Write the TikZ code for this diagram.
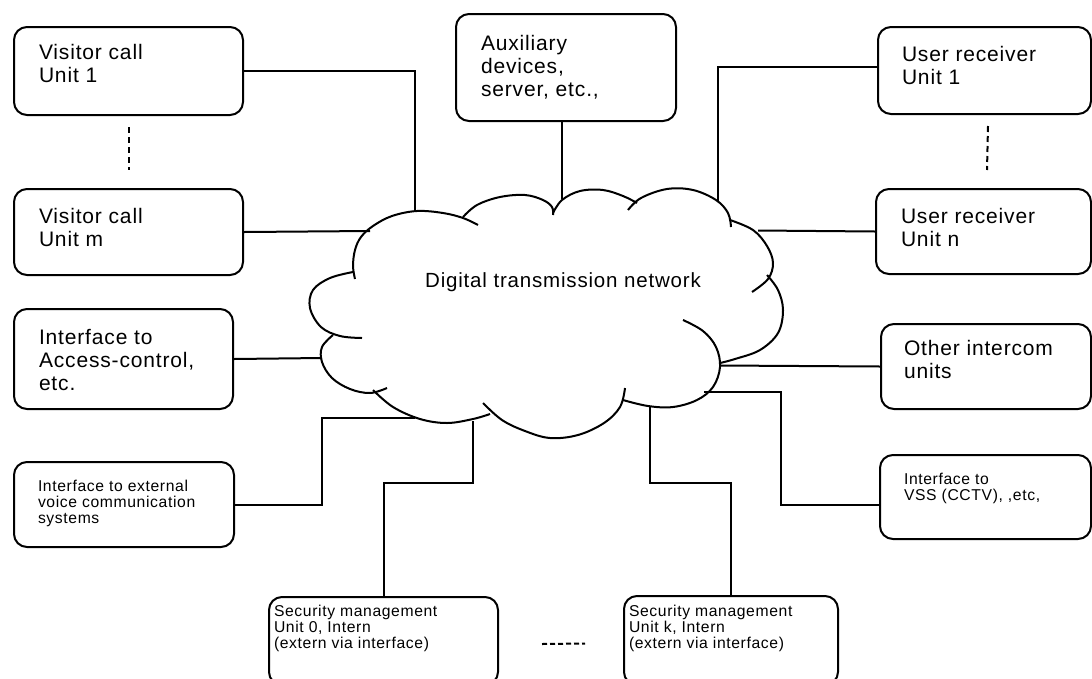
\documentclass[tikz,border=0pt]{standalone}
\usepackage{fontspec}
\setmainfont{Liberation Sans}[LetterSpace=4]
\newcommand\bigtxt{\fontsize{21}{23}\selectfont}
\newcommand\smalltxt{\fontsize{15.7}{16}\selectfont}
\newcommand\cloudtxt{\fontsize{20.5}{22}\selectfont}
\begin{document}
\begin{tikzpicture}[x=1pt, y=-1pt, line width=2pt,
  box/.style={draw, rounded corners=13pt, anchor=north west, inner sep=0pt},
  lbl/.style={anchor=north west, inner sep=0pt, align=left},
  biglbl/.style={lbl, font=\bigtxt},
  smalllbl/.style={lbl, font=\smalltxt},
  bump/.style={smooth, tension=0.6},
  dashline/.style={line width=2pt, dash pattern=on 6pt off 4pt},
  dashrow/.style={line width=2pt, dash pattern=on 5pt off 3pt}]
\useasboundingbox (0,0) rectangle (1092,678);
\clip (0,0) rectangle (1092,678);

% ---- boxes ----
\node[box, minimum width=229pt, minimum height=88pt] (vc1) at (13,26) {};
\node[box, minimum width=229pt, minimum height=86pt] (vcm) at (13,188) {};
\node[box, minimum width=219pt, minimum height=100pt] (acc) at (13,308) {};
\node[box, minimum width=220pt, minimum height=85pt] (ext) at (13,461) {};
\node[box, minimum width=220pt, minimum height=107pt] (aux) at (455,13) {};
\node[box, minimum width=213pt, minimum height=87pt] (ur1) at (877,26) {};
\node[box, minimum width=215pt, minimum height=85pt] (urn) at (875,188) {};
\node[box, minimum width=210pt, minimum height=85pt] (oth) at (880,323) {};
\node[box, minimum width=211pt, minimum height=84pt] (vss) at (879,454) {};
\node[box, minimum width=229pt, minimum height=88pt] (sec0) at (268,596) {};
\node[box, minimum width=214pt, minimum height=89pt] (seck) at (623,595) {};

% ---- box texts ----
\node[biglbl] (vc1t) at (38,43) {Visitor call\\Unit 1};
\node[biglbl] (vcmt) at (38,207) {Visitor call\\Unit m};
\node[biglbl] (acct) at (38,328) {Interface to\\Access-control,\\etc.};
\node[smalllbl] (extt) at (37,479) {Interface to external\\voice communication\\systems};
\node[biglbl] (auxt) at (480,34) {Auxiliary\\devices,\\server, etc.,};
\node[biglbl] (ur1t) at (901,45) {User receiver\\Unit 1};
\node[biglbl] (urnt) at (900,207) {User receiver\\Unit n};
\node[biglbl] (otht) at (903,339) {Other intercom\\units};
\node[smalllbl] (vsst) at (903,472) {Interface to\\VSS (CCTV), ,etc,};
\node[smalllbl] (sec0t) at (273,604) {Security management\\Unit 0, Intern\\(extern via interface)};
\node[smalllbl] (seckt) at (628,604) {Security management\\Unit k, Intern\\(extern via interface)};

% ---- cloud outline, one arc per bump ----
\draw plot[bump] coordinates {(355,279) (353,266) (355,250) (361,237) (373,226) (392,216) (417,211) (443,213) (463,218) (478,225)};
\draw plot[bump] coordinates {(463,217) (477,205) (500,197) (525,195) (543,200) (552,207) (553,215)};
\draw plot[bump] coordinates {(553,213) (562,200) (580,191) (603,190) (623,196) (637,203)};
\draw plot[bump] coordinates {(628,210) (641,198) (667,189) (693,190) (716,200) (728,213) (731,227)};
\draw plot[bump] coordinates {(730,220) (753,230) (767,246) (773,263) (768,279) (752,292)};
\draw plot[bump] coordinates {(767,275) (778,290) (783,310) (778,333) (760,350) (735,359) (720,363)};
\draw plot[bump] coordinates {(683,320) (703,331) (716,347) (720,367) (713,387) (697,400) (673,407) (648,406) (623,400)};
\draw plot[bump] coordinates {(625,388) (620,407) (604,423) (578,435) (550,438) (525,431) (502,420) (483,403)};
\draw plot[bump] coordinates {(490,414) (473,419) (447,423) (420,419) (393,407) (373,390)};
\draw plot[bump] coordinates {(387,388) (370,393) (350,389) (332,378) (322,362) (322,347) (333,335)};
\draw plot[bump] coordinates {(362,338) (340,336) (321,327) (310,308) (313,290) (330,278) (353,272)};

\node[font=\cloudtxt, anchor=base, inner sep=0pt] (net) at (563,287) {Digital transmission network};

% ---- attachment points on the cloud ----
\coordinate (cv1) at (415,211);
\coordinate (cvm) at (370,231);
\coordinate (cac) at (322,358);
\coordinate (cex) at (415,418);
\coordinate (cs0) at (473,421);
\coordinate (csk) at (650,407);
\coordinate (cvs) at (704,392);
\coordinate (cot) at (720,365.5);
\coordinate (cun) at (758,230.5);
\coordinate (cu1) at (718,202);
\coordinate (cax) at (562,199);

% ---- connectors ----
\draw (vc1.east) -| (cv1);
\draw (vcm.east) -- (cvm);
\draw (acc.east) -- (cac);
\draw (ext.east) -| (322,418) -- (cex);
\draw (cs0) -- ++(0,62) -| (sec0.north);
\draw (csk) -- ++(0,76) -| (seck.north);
\draw (cvs) -- ++(77,0) |- ([yshift=-7.5pt]vss.west);
\draw (oth.west) -- (cot);
\draw (urn.west) -- (cun);
\draw ([yshift=3.5pt]ur1.west) -| (cu1);
\draw (cax |- aux.south) -- (cax);

% ---- continuation marks ----
\draw[dashline] ([yshift=-11pt]vc1.south) -- ([yshift=18pt]vcm.north);
\draw[dashline] ([xshift=3.5pt, yshift=-11pt]ur1.south) -- ([xshift=3.5pt, yshift=18pt]urn.north);
\draw[dashrow] ([xshift=43pt, yshift=-3pt]sec0.east) -- ([xshift=-38pt, yshift=-3pt]seck.west);
\end{tikzpicture}
\end{document}
